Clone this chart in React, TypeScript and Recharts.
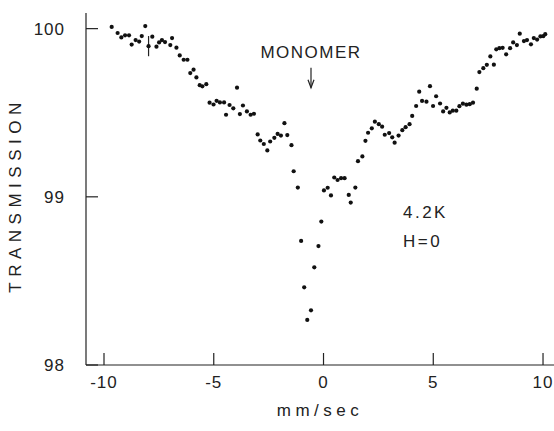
import { ScatterChart, Scatter, XAxis, YAxis, ErrorBar, ReferenceDot } from "recharts";

// Mössbauer spectrum (velocity in mm/sec, transmission in %)
const velocity = [
  -9.65, -9.38, -9.21, -9.04, -8.86, -8.74, -8.56, -8.4, -8.28, -8.12,
  -7.97, -7.8, -7.61, -7.49, -7.36, -7.22, -6.98, -6.9, -6.7, -6.55,
  -6.37, -6.2, -6.07, -5.92, -5.79, -5.64, -5.52, -5.34, -5.19, -5.01,
  -4.87, -4.72, -4.53, -4.44, -4.28, -4.11, -3.94, -3.81, -3.67, -3.49,
  -3.32, -3.17, -3.0, -2.88, -2.72, -2.56, -2.43, -2.24, -2.09, -1.94,
  -1.78, -1.65, -1.46, -1.36, -1.17, -1.02, -0.88, -0.74, -0.57, -0.42,
  -0.23, -0.1, 0.02, 0.19, 0.34, 0.49, 0.64, 0.8, 0.96, 1.15,
  1.24, 1.45, 1.57, 1.77, 1.91, 2.03, 2.2, 2.34, 2.52, 2.67,
  2.79, 2.99, 3.13, 3.24, 3.42, 3.59, 3.74, 3.92, 4.04, 4.22,
  4.36, 4.49, 4.69, 4.85, 4.99, 5.13, 5.31, 5.45, 5.6, 5.75,
  5.89, 6.05, 6.19, 6.35, 6.51, 6.66, 6.81, 6.98, 7.1, 7.28,
  7.44, 7.6, 7.76, 7.87, 8.01, 8.16, 8.32, 8.5, 8.64, 8.81,
  8.94, 9.13, 9.27, 9.45, 9.58, 9.73, 9.88, 10.01, 10.1,
];

const transmission = [
  100.01, 99.974, 99.948, 99.96, 99.96, 99.905, 99.932, 99.923, 99.956, 100.015,
  99.896, 99.952, 99.893, 99.918, 99.932, 99.92, 99.902, 99.944, 99.887, 99.841,
  99.815, 99.815, 99.736, 99.756, 99.71, 99.664, 99.657, 99.67, 99.56, 99.549,
  99.571, 99.561, 99.561, 99.488, 99.546, 99.526, 99.649, 99.492, 99.543, 99.508,
  99.488, 99.494, 99.371, 99.335, 99.314, 99.276, 99.329, 99.351, 99.374, 99.364,
  99.438, 99.367, 99.307, 99.152, 99.055, 98.738, 98.462, 98.268, 98.325, 98.581,
  98.707, 98.853, 99.038, 99.054, 99.008, 99.115, 99.1, 99.111, 99.111, 99.011,
  98.966, 99.055, 99.212, 99.24, 99.333, 99.381, 99.407, 99.447, 99.432, 99.417,
  99.369, 99.379, 99.354, 99.322, 99.364, 99.396, 99.414, 99.432, 99.481, 99.54,
  99.625, 99.57, 99.566, 99.658, 99.54, 99.598, 99.555, 99.508, 99.529, 99.502,
  99.512, 99.512, 99.539, 99.554, 99.548, 99.551, 99.56, 99.643, 99.742, 99.765,
  99.785, 99.835, 99.786, 99.877, 99.884, 99.886, 99.847, 99.884, 99.918, 99.902,
  99.97, 99.926, 99.932, 99.907, 99.944, 99.935, 99.954, 99.955, 99.967,
];

// the single representative error bar
const errorBars = [{ velocity: -7.97, err: 0.06 }];

const xTicks = [-10, -5, 0, 5, 10];
const yTicks = [98, 99, 100];

const monomer = { velocity: -0.57, transmission: 99.649, label: "MONOMER" };
const conditions = { velocity: 3.62, transmission: 98.875, lines: ["4.2K", "H=0"] };

const FONT = "'Liberation Sans', Arial, sans-serif";
const INK = "#222";

const points = velocity.map((v, i) => ({
  v,
  t: transmission[i],
  err: errorBars.find((e) => e.velocity === v)?.err ?? 0,
}));

const textStyle = { fontFamily: FONT, fontSize: 17, fill: INK, letterSpacing: 1 };

function XTick({ x, y, payload }: any) {
  return (
    <g>
      <line x1={x} x2={x} y1={y} y2={y - 12} stroke={INK} strokeWidth={1.2} />
      <text x={x} y={y + 23} textAnchor="middle" style={textStyle}>
        {payload.value}
      </text>
    </g>
  );
}

function YTick({ x, y, payload }: any) {
  return (
    <g>
      <line x1={x} x2={x + 12} y1={y} y2={y} stroke={INK} strokeWidth={1.2} />
      <text x={x - 21} y={y + 6} textAnchor="end" style={textStyle}>
        {payload.value}
      </text>
    </g>
  );
}

function Dot({ cx, cy }: any) {
  return <circle cx={cx} cy={cy} r={2.1} fill="#111" />;
}

export default function App() {
  return (
    <div style={{ width: 554, height: 431, background: "#fff" }}>
      <style>{"body{margin:0;background:#fff}"}</style>
      <ScatterChart width={554} height={431} margin={{ top: 13, right: 0, bottom: 0, left: 0 }}>
        <XAxis
          type="number"
          dataKey="v"
          domain={[-10.82, 10.5]}
          ticks={xTicks}
          allowDataOverflow
          height={66}
          tickSize={0}
          tickMargin={0}
          tickLine={false}
          tick={<XTick />}
          axisLine={{ stroke: INK, strokeWidth: 1.2 }}
          label={{
            content: ({ viewBox }: any) => (
              <text
                x={viewBox.x + viewBox.width / 2}
                y={416}
                textAnchor="middle"
                style={{ ...textStyle, letterSpacing: 4.5 }}
              >
                mm/sec
              </text>
            ),
          }}
        />
        <XAxis
          xAxisId="top"
          orientation="top"
          type="number"
          dataKey="v"
          domain={[-10.82, 10.5]}
          height={0}
          tick={false}
          tickLine={false}
          axisLine={{ stroke: INK, strokeWidth: 1.2 }}
        />
        <YAxis
          type="number"
          dataKey="t"
          domain={[98, 100.093]}
          ticks={yTicks}
          allowDataOverflow
          width={86}
          tickSize={0}
          tickMargin={0}
          tickLine={false}
          tick={<YTick />}
          axisLine={{ stroke: INK, strokeWidth: 1.2 }}
          label={{
            content: ({ viewBox }: any) => {
              const cy = viewBox.y + viewBox.height / 2 + 6;
              return (
                <text
                  x={15}
                  y={cy}
                  transform={`rotate(-90 15 ${cy})`}
                  textAnchor="middle"
                  dominantBaseline="central"
                  style={{ ...textStyle, letterSpacing: 5.5 }}
                >
                  TRANSMISSION
                </text>
              );
            },
          }}
        />
        <Scatter data={points} shape={<Dot />} isAnimationActive={false}>
          <ErrorBar dataKey="err" direction="y" width={0} stroke={INK} strokeWidth={1.2} />
        </Scatter>
        <ReferenceDot
          x={monomer.velocity}
          y={monomer.transmission}
          r={0}
          shape={(p: any) => (
            <g>
              <text x={p.cx} y={p.cy - 30} textAnchor="middle" style={{ ...textStyle, letterSpacing: 1.5 }}>
                {monomer.label}
              </text>
              <line x1={p.cx} x2={p.cx} y1={p.cy - 20} y2={p.cy} stroke={INK} strokeWidth={1.2} />
              <polyline
                points={`${p.cx - 3},${p.cy - 8} ${p.cx},${p.cy} ${p.cx + 3},${p.cy - 8}`}
                fill="none"
                stroke={INK}
                strokeWidth={1.2}
              />
            </g>
          )}
        />
        <ReferenceDot
          x={conditions.velocity}
          y={conditions.transmission}
          r={0}
          shape={(p: any) => (
            <g>
              {conditions.lines.map((s, i) => (
                <text key={s} x={p.cx} y={p.cy + i * 29} style={{ ...textStyle, letterSpacing: 2.5 }}>
                  {s}
                </text>
              ))}
            </g>
          )}
        />
      </ScatterChart>
    </div>
  );
}
